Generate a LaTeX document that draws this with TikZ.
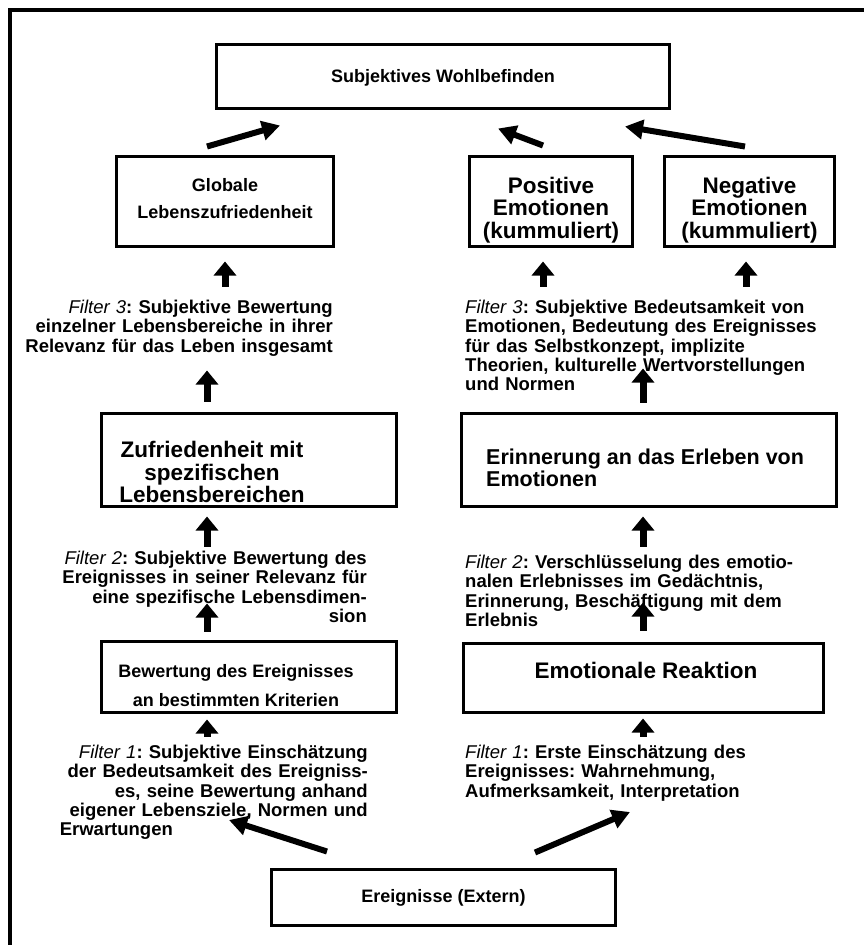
\documentclass[tikz,border=0pt]{standalone}
\usepackage{fontspec}
\setmainfont{Liberation Sans}
\usetikzlibrary{arrows.meta, positioning, calc}
\newcommand{\filt}[1]{\textit{\mdseries #1}}
\tikzset{
  kasten/.style={
    rectangle, draw, line width=3pt, fill=white,
    align=center, inner sep=0pt,
    font=\bfseries\fontsize{18}{21}\selectfont
  },
  kastentext/.style={inner sep=0pt, align=center,
    font=\bfseries\fontsize{18}{21}\selectfont},
  grosstext/.style={inner sep=0pt,
    font=\bfseries\fontsize{22.5}{22.5}\selectfont},
  filtertext/.style={
    inner sep=0pt, font=\bfseries\fontsize{18.5}{19.3}\selectfont
  },
  hochpfeil/.style={-{Triangle[length=14pt,width=22pt]}, line width=7pt},
  schraegpfeil/.style={-{Triangle[length=18pt,width=19pt]}, line width=6pt},
}
\begin{document}
\frenchspacing
\begin{tikzpicture}[x=1pt,y=-1pt]
  \useasboundingbox (0,0) rectangle (864,945);
  \draw[line width=4pt] (10.3,945) -- (10.3,10.3) -- (864,10.3);
  % oberste Ebene
  \node[kasten,minimum width=453pt,minimum height=64pt] (wohl) at (443,76.5) {};
  \node[kastentext] (wohltxt) at (443,78) {Subjektives Wohlbefinden};
  \node[kasten,minimum width=217pt,minimum height=90pt] (global) at (225,201.5) {};
  \node[kastentext,font=\bfseries\fontsize{18}{27}\selectfont] (globaltxt) at (225,198.5)
       {Globale\\Lebenszufriedenheit};
  \node[kasten,minimum width=163pt,minimum height=90pt] (posemo) at (551,201.5) {};
  \node[grosstext,align=center] (posemotxt) at (551,210) {Positive\\Emotionen\\(kummuliert)};
  \node[kasten,minimum width=170pt,minimum height=90pt,right=29pt of posemo] (negemo) {};
  \node[grosstext,align=center] (negemotxt) at (negemo.center |- posemotxt.center)
       {Negative\\Emotionen\\(kummuliert)};
  % linke Spalte
  \node[filtertext,anchor=north east,text width=330pt,align=right] (ltf3) at (333,300)
       {\filt{Filter 3}: Subjektive Bewertung\\einzelner Lebensbereiche in ihrer\\Relevanz f\"ur das Leben insgesamt};
  \node[kasten,minimum width=295pt,minimum height=93pt] (zuf) at (249,460) {};
  \node[grosstext,align=center] (zuftxt) at (212,472)
       {Zufriedenheit mit\\spezifischen\\Lebensbereichen};
  \node[filtertext,anchor=north east,text width=330pt,align=right] (ltf2) at (367,551)
       {\filt{Filter 2}: Subjektive Bewertung des\\Ereignisses in seiner Relevanz f\"ur\\eine spezifische Lebensdimen-\\sion};
  \node[kasten,minimum width=295pt,minimum height=71pt] (bew) at (249,677) {};
  \node[kastentext,font=\bfseries\fontsize{18}{29}\selectfont] (bewtxt) at (236,686)
       {Bewertung des Ereignisses\\an bestimmten Kriterien};
  \node[filtertext,anchor=north east,text width=308pt,align=right] (ltf1) at (368,745)
       {\filt{Filter 1}: Subjektive Einsch\"atzung\\der Bedeutsamkeit des Ereigniss-\\es, seine Bewertung anhand\\eigener Lebensziele, Normen und\\\makebox[308pt][l]{Erwartungen}};
  % rechte Spalte
  \node[filtertext,anchor=north west,text width=380pt,align=left] (rtf3) at (465,300)
       {\filt{Filter 3}: Subjektive Bedeutsamkeit von\\Emotionen, Bedeutung des Ereignisses\\f\"ur das Selbstkonzept, implizite\\Theorien, kulturelle Wertvorstellungen\\und Normen};
  \node[kasten,minimum width=375pt,minimum height=93pt] (eri) at (649,460) {};
  \node[grosstext,anchor=west,align=left,font=\bfseries\fontsize{21.5}{22.5}\selectfont]
       (eritxt) at (486,468) {Erinnerung an das Erleben von\\Emotionen};
  \node[filtertext,anchor=north west,text width=380pt,align=left] (rtf2) at (465,555)
       {\filt{Filter 2}: Verschl\"usselung des emotio-\\nalen Erlebnisses im Ged\"achtnis,\\Erinnerung, Besch\"aftigung mit dem\\Erlebnis};
  \node[kasten,minimum width=360pt,minimum height=69pt] (emo) at (643.5,678) {};
  \node[grosstext] (emotxt) at (646,670) {Emotionale Reaktion};
  \node[filtertext,anchor=north west,text width=380pt,align=left] (rtf1) at (465,745)
       {\filt{Filter 1}: Erste Einsch\"atzung des\\Ereignisses: Wahrnehmung,\\Aufmerksamkeit, Interpretation};
  % unten
  \node[kasten,minimum width=344pt,minimum height=56pt] (erg) at (443.5,897.5)
       {Ereignisse (Extern)};
  % Pfeile
  \draw[schraegpfeil] ($(global.north)+(-18,-8.5)$) -- ($(wohl.south)+(-163,15.5)$);
  \draw[schraegpfeil] ($(posemo.north)+(-8,-9.5)$) -- ($(wohl.south)+(55,18.5)$);
  \draw[schraegpfeil] ($(negemo.north)+(-4.5,-8.5)$) -- ($(wohl.south)+(182,16.5)$);
  \draw[hochpfeil] ($(global.south)+(0,38.5)$) -- ($(global.south)+(0,13.5)$);
  \draw[hochpfeil] ($(posemo.south)+(-8,38.5)$) -- ($(posemo.south)+(-8,13.5)$);
  \draw[hochpfeil] ($(negemo.south)+(-3.5,38.5)$) -- ($(negemo.south)+(-3.5,13.5)$);
  \draw[hochpfeil] ($(zuf.north)+(-42,-10.5)$) -- ($(zuf.north)+(-42,-41.5)$);
  \draw[hochpfeil] ($(zuf.south)+(-42,38.5)$) -- ($(zuf.south)+(-42,8.5)$);
  \draw[hochpfeil] ($(bew.north)+(-42,-8.5)$) -- ($(bew.north)+(-42,-36.5)$);
  \draw[hochpfeil] ($(bew.south)+(-42,22.5)$) -- ($(bew.south)+(-42,5.5)$);
  \draw[hochpfeil] ($(eri.north)+(-6,-9.5)$) -- ($(eri.north)+(-6,-43.5)$);
  \draw[hochpfeil] ($(eri.south)+(-6,38.5)$) -- ($(eri.south)+(-6,8.5)$);
  \draw[hochpfeil] ($(emo.north)+(-0.5,-11.5)$) -- ($(emo.north)+(-0.5,-39.5)$);
  \draw[hochpfeil] ($(emo.south)+(-0.5,22.5)$) -- ($(emo.south)+(-0.5,4.5)$);
  \draw[schraegpfeil] ($(erg.north)+(-116.5,-16.5)$) -- ($(ltf1.north east)+(-139,75)$);
  \draw[schraegpfeil] ($(erg.north)+(91.5,-15.5)$) -- ($(rtf1.north west)+(165,67)$);
\end{tikzpicture}
\end{document}
